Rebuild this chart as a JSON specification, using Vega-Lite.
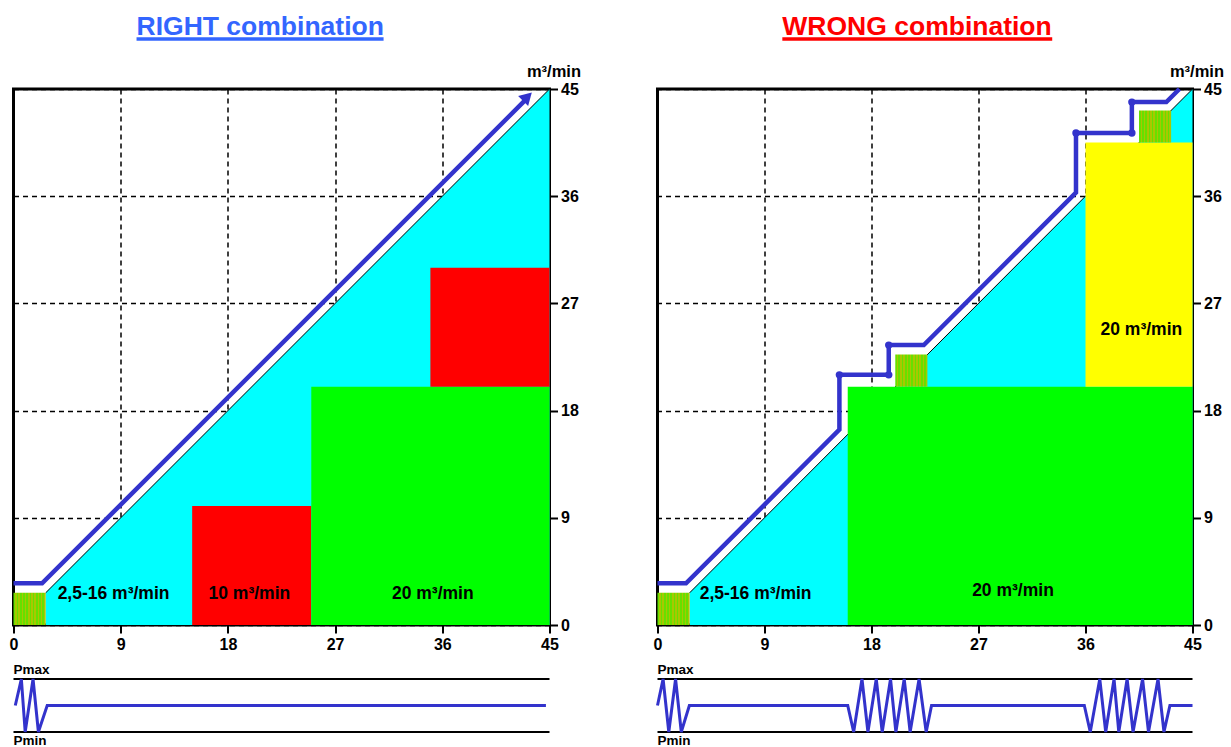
{
  "$schema": "https://vega.github.io/schema/vega-lite/v6.json",
  "padding": {"left": 2.5, "top": 1, "right": 5, "bottom": 2},
  "config": {
    "font": "Liberation Sans",
    "view": {"stroke": "black", "strokeWidth": 3},
    "axis": {
      "labelFont": "Liberation Sans", "labelFontWeight": "bold", "labelFontSize": 16, "labelColor": "black",
      "tickColor": "black", "tickWidth": 2, "tickSize": 8, "domain": false,
      "grid": true, "gridColor": "black", "gridDash": [5, 4], "gridWidth": 1.5,
      "labelOverlap": false, "labelBound": false, "labelFlush": false, "labelPadding": 3,
      "titleFont": "Liberation Sans"
    }
  },
  "datasets": {
    "titleLeft": [{"title": "RIGHT combination", "x": 10.33, "x2": 31.07, "y": 0, "yLine": -0.12}],
    "titleRight": [{"title": "WRONG combination", "x": 10.5, "x2": 33.2, "y": 0, "yLine": -0.12}],
    "cyan": [{"x": 2.7, "y": 2.7, "y2": 0}, {"x": 45, "y": 45, "y2": 0}],
    "diag": [{"x": 2.7, "y": 2.7}, {"x": 45, "y": 45}],
    "blocksLeft": [
      {"unit": "10 m³/min", "x": 15, "x2": 25, "y": 0, "y2": 10},
      {"unit": "20 m³/min", "x": 25, "x2": 45, "y": 0, "y2": 20},
      {"unit": "10 m³/min (2)", "x": 35, "x2": 45, "y": 20, "y2": 30}
    ],
    "blocksRight": [
      {"unit": "20 m³/min", "x": 16, "x2": 45, "y": 0, "y2": 20},
      {"unit": "20 m³/min (2)", "x": 36, "x2": 45, "y": 20, "y2": 40.5}
    ],
    "vsdLeft": [{"x": 0, "x2": 2.7, "y": 0, "y2": 2.7}],
    "vsdRight": [
      {"x": 0, "x2": 2.7, "y": 0, "y2": 2.7},
      {"x": 20, "x2": 22.7, "y": 20, "y2": 22.7},
      {"x": 40.5, "x2": 43.2, "y": 40.5, "y2": 43.2}
    ],
    "flowLeft": [
      {"i": 1, "x": 0, "y": 3.5},
      {"i": 2, "x": 2.4, "y": 3.5},
      {"i": 3, "x": 42.9, "y": 44.0}
    ],
    "arrowLeft": [{"x": 43.15, "y": 44.35}],
    "flowRight": [
      {"i": 1, "x": 0, "y": 3.5},
      {"i": 2, "x": 2.4, "y": 3.5},
      {"i": 3, "x": 15.3, "y": 16.4},
      {"i": 4, "x": 15.3, "y": 21.0},
      {"i": 5, "x": 19.45, "y": 21.0},
      {"i": 6, "x": 19.45, "y": 23.5},
      {"i": 7, "x": 22.4, "y": 23.5},
      {"i": 8, "x": 35.2, "y": 36.3},
      {"i": 9, "x": 35.2, "y": 41.3},
      {"i": 10, "x": 39.9, "y": 41.3},
      {"i": 11, "x": 39.9, "y": 43.9},
      {"i": 12, "x": 42.8, "y": 43.9},
      {"i": 13, "x": 43.9, "y": 45.0}
    ],
    "cornersRight": [
      {"x": 15.3, "y": 21.0}, {"x": 19.45, "y": 21.0}, {"x": 19.45, "y": 23.5},
      {"x": 35.2, "y": 41.3}, {"x": 39.9, "y": 41.3}, {"x": 39.9, "y": 43.9}
    ],
    "labelsLeft": [
      {"label": "2,5-16 m³/min", "x": 8.4, "y": 2.6},
      {"label": "10 m³/min", "x": 19.8, "y": 2.6},
      {"label": "20 m³/min", "x": 35.2, "y": 2.6}
    ],
    "labelsRight": [
      {"label": "2,5-16 m³/min", "x": 8.25, "y": 2.6},
      {"label": "20 m³/min", "x": 29.9, "y": 2.85},
      {"label": "20 m³/min", "x": 40.7, "y": 24.8}
    ],
    "pressureLeft": [
      {"x": 0.15, "p": 0.5}, {"x": 0.66, "p": 1}, {"x": 0.98, "p": 0}, {"x": 1.64, "p": 1},
      {"x": 2.09, "p": 0}, {"x": 2.83, "p": 0.5}, {"x": 44.7, "p": 0.5}
    ],
    "pressureRight": [
      {"x": 0, "p": 0.5}, {"x": 0.47, "p": 1}, {"x": 0.95, "p": 0}, {"x": 1.52, "p": 1},
      {"x": 2.0, "p": 0}, {"x": 2.68, "p": 0.5}, {"x": 16.0, "p": 0.5}, {"x": 16.5, "p": 0},
      {"x": 17.2, "p": 1}, {"x": 17.7, "p": 0}, {"x": 18.4, "p": 1}, {"x": 18.9, "p": 0},
      {"x": 19.6, "p": 1}, {"x": 20.05, "p": 0}, {"x": 20.75, "p": 1}, {"x": 21.25, "p": 0},
      {"x": 22.0, "p": 1}, {"x": 22.6, "p": 0}, {"x": 23.05, "p": 0.5}, {"x": 35.9, "p": 0.5},
      {"x": 36.4, "p": 0}, {"x": 37.2, "p": 1}, {"x": 37.7, "p": 0}, {"x": 38.4, "p": 1},
      {"x": 38.8, "p": 0}, {"x": 39.5, "p": 1}, {"x": 40.0, "p": 0}, {"x": 40.8, "p": 1},
      {"x": 41.3, "p": 0}, {"x": 42.1, "p": 1}, {"x": 42.6, "p": 0}, {"x": 43.1, "p": 0.5},
      {"x": 45, "p": 0.5}
    ],
    "limits": [{"limit": "Pmax", "p": 1, "x": 0}, {"limit": "Pmin", "p": 0, "x": 0}]
  },
  "spacing": 64,
  "hconcat": [
    {
      "spacing": 54,
      "bounds": "flush",
      "vconcat": [
        {
          "width": 536, "height": 34,
          "view": {"stroke": null},
          "data": {"name": "titleLeft"},
          "encoding": {
            "x": {"field": "x", "type": "quantitative", "scale": {"domain": [0, 45], "nice": false, "zero": false}, "axis": null},
            "y": {"field": "y", "type": "quantitative", "scale": {"domain": [0, 1], "nice": false}, "axis": null}
          },
          "layer": [
            {"mark": {"type": "text", "align": "left", "baseline": "alphabetic", "fontSize": 26.5, "fontWeight": "bold", "color": "#3366ff"},
             "encoding": {"text": {"field": "title"}}},
            {"mark": {"type": "rule", "color": "#3366ff", "strokeWidth": 3.5},
             "encoding": {"x2": {"field": "x2"}, "y": {"field": "yLine", "type": "quantitative"}}}
          ]
        },
        {
          "width": 536, "height": 536,
          "encoding": {
            "x": {"field": "x", "type": "quantitative", "scale": {"domain": [0, 45], "nice": false, "zero": false},
                  "axis": {"orient": "bottom", "values": [0, 9, 18, 27, 36, 45], "title": null}},
            "y": {"field": "y", "type": "quantitative", "scale": {"domain": [0, 45], "nice": false, "zero": false},
                  "axis": {"orient": "right", "values": [0, 9, 18, 27, 36, 45], "title": "m³/min", "titleAngle": 0,
                           "titleAlign": "right", "titleBaseline": "alphabetic", "titleX": 31, "titleY": -13,
                           "titleFontSize": 16.5, "titleFontWeight": "bold", "titleColor": "black", "labelPadding": 3}}
          },
          "layer": [
            {"data": {"name": "cyan"}, "mark": {"type": "area", "color": "#00ffff"}, "encoding": {"y2": {"field": "y2"}}},
            {"data": {"name": "diag"}, "mark": {"type": "line", "color": "black", "strokeWidth": 1}, "encoding": {}},
            {"data": {"name": "blocksLeft"}, "mark": {"type": "rect"},
             "encoding": {"x2": {"field": "x2"}, "y2": {"field": "y2"},
                          "color": {"field": "unit", "type": "nominal", "legend": null,
                                    "scale": {"domain": ["10 m³/min", "20 m³/min", "10 m³/min (2)", "20 m³/min (2)"], "range": ["#ff0000", "#00ff00", "#ff0000", "#ffff00"]}}}},
            {"data": {"name": "vsdLeft"},
             "mark": {"type": "rect", "fill": {"gradient": "linear", "x1": 0, "y1": 0, "x2": 1, "y2": 0, "stops": [
               {"offset": 0, "color": "#66e000"}, {"offset": 0.05, "color": "#66e000"}, {"offset": 0.05, "color": "#a8c800"}, {"offset": 0.1, "color": "#a8c800"},
               {"offset": 0.1, "color": "#66e000"}, {"offset": 0.15, "color": "#66e000"}, {"offset": 0.15, "color": "#a8c800"}, {"offset": 0.2, "color": "#a8c800"},
               {"offset": 0.2, "color": "#66e000"}, {"offset": 0.25, "color": "#66e000"}, {"offset": 0.25, "color": "#a8c800"}, {"offset": 0.3, "color": "#a8c800"},
               {"offset": 0.3, "color": "#66e000"}, {"offset": 0.35, "color": "#66e000"}, {"offset": 0.35, "color": "#a8c800"}, {"offset": 0.4, "color": "#a8c800"},
               {"offset": 0.4, "color": "#66e000"}, {"offset": 0.45, "color": "#66e000"}, {"offset": 0.45, "color": "#a8c800"}, {"offset": 0.5, "color": "#a8c800"},
               {"offset": 0.5, "color": "#66e000"}, {"offset": 0.55, "color": "#66e000"}, {"offset": 0.55, "color": "#a8c800"}, {"offset": 0.6, "color": "#a8c800"},
               {"offset": 0.6, "color": "#66e000"}, {"offset": 0.65, "color": "#66e000"}, {"offset": 0.65, "color": "#a8c800"}, {"offset": 0.7, "color": "#a8c800"},
               {"offset": 0.7, "color": "#66e000"}, {"offset": 0.75, "color": "#66e000"}, {"offset": 0.75, "color": "#a8c800"}, {"offset": 0.8, "color": "#a8c800"},
               {"offset": 0.8, "color": "#66e000"}, {"offset": 0.85, "color": "#66e000"}, {"offset": 0.85, "color": "#a8c800"}, {"offset": 0.9, "color": "#a8c800"},
               {"offset": 0.9, "color": "#66e000"}, {"offset": 0.95, "color": "#66e000"}, {"offset": 0.95, "color": "#a8c800"}, {"offset": 1, "color": "#a8c800"}]}},
             "encoding": {"x2": {"field": "x2"}, "y2": {"field": "y2"}}},
            {"data": {"name": "flowLeft"}, "mark": {"type": "line", "color": "#3333cc", "strokeWidth": 4.5},
             "encoding": {"order": {"field": "i", "type": "quantitative"}}},
            {"data": {"name": "arrowLeft"}, "mark": {"type": "point", "shape": "triangle-up", "angle": 45, "size": 200, "filled": true, "opacity": 1, "color": "#3333cc"}, "encoding": {}},
            {"data": {"name": "labelsLeft"}, "mark": {"type": "text", "fontSize": 17.5, "fontWeight": "bold", "color": "black", "baseline": "middle"},
             "encoding": {"text": {"field": "label"}}}
          ]
        },
        {
          "width": 536, "height": 53,
          "view": {"stroke": null},
          "encoding": {
            "x": {"field": "x", "type": "quantitative", "scale": {"domain": [0, 45], "nice": false, "zero": false}, "axis": null},
            "y": {"field": "p", "type": "quantitative", "scale": {"domain": [0, 1], "nice": false}, "axis": null}
          },
          "layer": [
            {"data": {"name": "limits"}, "mark": {"type": "rule", "color": "black", "strokeWidth": 2}, "encoding": {"x": null}},
            {"data": {"name": "pressureLeft"}, "mark": {"type": "line", "color": "#3333cc", "strokeWidth": 3}, "encoding": {}},
            {"data": {"name": "limits"}, "transform": [{"filter": "datum.limit === 'Pmax'"}],
             "mark": {"type": "text", "align": "left", "baseline": "bottom", "dy": -2, "fontSize": 13.5, "fontWeight": "bold", "color": "black"},
             "encoding": {"text": {"field": "limit"}}},
            {"data": {"name": "limits"}, "transform": [{"filter": "datum.limit === 'Pmin'"}],
             "mark": {"type": "text", "align": "left", "baseline": "top", "dy": 2, "fontSize": 13.5, "fontWeight": "bold", "color": "black"},
             "encoding": {"text": {"field": "limit"}}}
          ]
        }
      ]
    },
    {
      "spacing": 54,
      "bounds": "flush",
      "vconcat": [
        {
          "width": 535, "height": 34,
          "view": {"stroke": null},
          "data": {"name": "titleRight"},
          "encoding": {
            "x": {"field": "x", "type": "quantitative", "scale": {"domain": [0, 45], "nice": false, "zero": false}, "axis": null},
            "y": {"field": "y", "type": "quantitative", "scale": {"domain": [0, 1], "nice": false}, "axis": null}
          },
          "layer": [
            {"mark": {"type": "text", "align": "left", "baseline": "alphabetic", "fontSize": 26.5, "fontWeight": "bold", "color": "#ff0000"},
             "encoding": {"text": {"field": "title"}}},
            {"mark": {"type": "rule", "color": "#ff0000", "strokeWidth": 3.5},
             "encoding": {"x2": {"field": "x2"}, "y": {"field": "yLine", "type": "quantitative"}}}
          ]
        },
        {
          "width": 535, "height": 536,
          "encoding": {
            "x": {"field": "x", "type": "quantitative", "scale": {"domain": [0, 45], "nice": false, "zero": false},
                  "axis": {"orient": "bottom", "values": [0, 9, 18, 27, 36, 45], "title": null}},
            "y": {"field": "y", "type": "quantitative", "scale": {"domain": [0, 45], "nice": false, "zero": false},
                  "axis": {"orient": "right", "values": [0, 9, 18, 27, 36, 45], "title": "m³/min", "titleAngle": 0,
                           "titleAlign": "right", "titleBaseline": "alphabetic", "titleX": 31, "titleY": -13,
                           "titleFontSize": 16.5, "titleFontWeight": "bold", "titleColor": "black", "labelPadding": 3}}
          },
          "layer": [
            {"data": {"name": "cyan"}, "mark": {"type": "area", "color": "#00ffff"}, "encoding": {"y2": {"field": "y2"}}},
            {"data": {"name": "diag"}, "mark": {"type": "line", "color": "black", "strokeWidth": 1}, "encoding": {}},
            {"data": {"name": "blocksRight"}, "mark": {"type": "rect"},
             "encoding": {"x2": {"field": "x2"}, "y2": {"field": "y2"},
                          "color": {"field": "unit", "type": "nominal", "legend": null,
                                    "scale": {"domain": ["10 m³/min", "20 m³/min", "10 m³/min (2)", "20 m³/min (2)"], "range": ["#ff0000", "#00ff00", "#ff0000", "#ffff00"]}}}},
            {"data": {"name": "vsdRight"},
             "mark": {"type": "rect", "fill": {"gradient": "linear", "x1": 0, "y1": 0, "x2": 1, "y2": 0, "stops": [
               {"offset": 0, "color": "#66e000"}, {"offset": 0.05, "color": "#66e000"}, {"offset": 0.05, "color": "#a8c800"}, {"offset": 0.1, "color": "#a8c800"},
               {"offset": 0.1, "color": "#66e000"}, {"offset": 0.15, "color": "#66e000"}, {"offset": 0.15, "color": "#a8c800"}, {"offset": 0.2, "color": "#a8c800"},
               {"offset": 0.2, "color": "#66e000"}, {"offset": 0.25, "color": "#66e000"}, {"offset": 0.25, "color": "#a8c800"}, {"offset": 0.3, "color": "#a8c800"},
               {"offset": 0.3, "color": "#66e000"}, {"offset": 0.35, "color": "#66e000"}, {"offset": 0.35, "color": "#a8c800"}, {"offset": 0.4, "color": "#a8c800"},
               {"offset": 0.4, "color": "#66e000"}, {"offset": 0.45, "color": "#66e000"}, {"offset": 0.45, "color": "#a8c800"}, {"offset": 0.5, "color": "#a8c800"},
               {"offset": 0.5, "color": "#66e000"}, {"offset": 0.55, "color": "#66e000"}, {"offset": 0.55, "color": "#a8c800"}, {"offset": 0.6, "color": "#a8c800"},
               {"offset": 0.6, "color": "#66e000"}, {"offset": 0.65, "color": "#66e000"}, {"offset": 0.65, "color": "#a8c800"}, {"offset": 0.7, "color": "#a8c800"},
               {"offset": 0.7, "color": "#66e000"}, {"offset": 0.75, "color": "#66e000"}, {"offset": 0.75, "color": "#a8c800"}, {"offset": 0.8, "color": "#a8c800"},
               {"offset": 0.8, "color": "#66e000"}, {"offset": 0.85, "color": "#66e000"}, {"offset": 0.85, "color": "#a8c800"}, {"offset": 0.9, "color": "#a8c800"},
               {"offset": 0.9, "color": "#66e000"}, {"offset": 0.95, "color": "#66e000"}, {"offset": 0.95, "color": "#a8c800"}, {"offset": 1, "color": "#a8c800"}]}},
             "encoding": {"x2": {"field": "x2"}, "y2": {"field": "y2"}}},
            {"data": {"name": "flowRight"}, "mark": {"type": "line", "color": "#3333cc", "strokeWidth": 4.5},
             "encoding": {"order": {"field": "i", "type": "quantitative"}}},
            {"data": {"name": "cornersRight"}, "mark": {"type": "circle", "size": 55, "opacity": 1, "color": "#3333cc"}, "encoding": {}},
            {"data": {"name": "labelsRight"}, "mark": {"type": "text", "fontSize": 17.5, "fontWeight": "bold", "color": "black", "baseline": "middle"},
             "encoding": {"text": {"field": "label"}}}
          ]
        },
        {
          "width": 535, "height": 53,
          "view": {"stroke": null},
          "encoding": {
            "x": {"field": "x", "type": "quantitative", "scale": {"domain": [0, 45], "nice": false, "zero": false}, "axis": null},
            "y": {"field": "p", "type": "quantitative", "scale": {"domain": [0, 1], "nice": false}, "axis": null}
          },
          "layer": [
            {"data": {"name": "limits"}, "mark": {"type": "rule", "color": "black", "strokeWidth": 2}, "encoding": {"x": null}},
            {"data": {"name": "pressureRight"}, "mark": {"type": "line", "color": "#3333cc", "strokeWidth": 3}, "encoding": {}},
            {"data": {"name": "limits"}, "transform": [{"filter": "datum.limit === 'Pmax'"}],
             "mark": {"type": "text", "align": "left", "baseline": "bottom", "dy": -2, "fontSize": 13.5, "fontWeight": "bold", "color": "black"},
             "encoding": {"text": {"field": "limit"}}},
            {"data": {"name": "limits"}, "transform": [{"filter": "datum.limit === 'Pmin'"}],
             "mark": {"type": "text", "align": "left", "baseline": "top", "dy": 2, "fontSize": 13.5, "fontWeight": "bold", "color": "black"},
             "encoding": {"text": {"field": "limit"}}}
          ]
        }
      ]
    }
  ]
}
